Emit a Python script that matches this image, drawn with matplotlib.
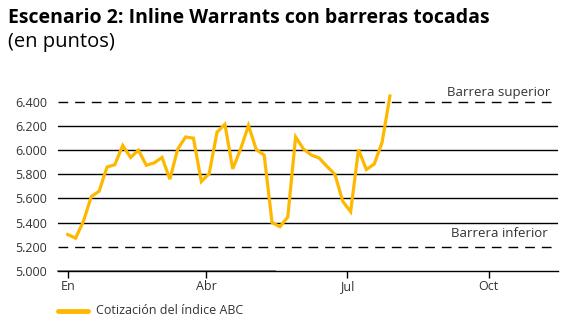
import matplotlib
matplotlib.use("Agg")
import matplotlib.pyplot as plt
import matplotlib.dates as mdates
import pandas as pd

values = [5300, 5270, 5410, 5615, 5660, 5860, 5880, 6040, 5940, 6000,
          5875, 5895, 5940, 5760, 6010, 6110, 6100, 5740, 5805, 6150,
          6215, 5845, 6010, 6205, 6005, 5960, 5400, 5365, 5445, 6110,
          6010, 5960, 5935, 5865, 5800, 5575, 5490, 6005, 5840, 5885,
          6065, 6450]
dates = pd.date_range("2023-01-01", "2023-07-29", periods=len(values))
tick_dates = pd.to_datetime(["2023-01-01", "2023-04-01", "2023-07-01", "2023-10-01"])
tick_labels = ["En", "Abr", "Jul", "Oct"]
grid_levels = [5400, 5600, 5800, 6000, 6200]
barrier_upper = 6400
barrier_lower = 5200
ytick_values = [5000, 5200, 5400, 5600, 5800, 6000, 6200, 6400]
ytick_labels = ["5.000", "5.200", "5.400", "5.600", "5.800", "6.000", "6.200", "6.400"]
title = "Escenario 2: Inline Warrants con barreras tocadas"
subtitle = "(en puntos)"
series_label = "Cotización del índice ABC"

plt.rcParams['font.family'] = ['Open Sans', 'DejaVu Sans']
TXT = "#333333"
LINE = "#FFB800"

fig = plt.figure(figsize=(5.73, 3.27), dpi=100)
ax = fig.add_axes([0.1012, 0.1722, 0.8726, 0.5526])

x0 = mdates.date2num(pd.Timestamp("2023-01-01")) - 6.3
x1 = mdates.date2num(pd.Timestamp("2023-01-01")) + 318
ax.set_xlim(x0, x1)
ax.set_ylim(5000, 6500)

for g in grid_levels:
    ax.axhline(g, color="black", lw=1.0, zorder=1)
for b in (barrier_upper, barrier_lower):
    ax.axhline(b, xmax=0.988, color="black", lw=1.0, dashes=(7, 5), zorder=1)

ax.plot(mdates.date2num(dates), values, color=LINE, lw=2.3, zorder=3,
        solid_joinstyle="miter", clip_on=False)

for s in ["top", "right", "left"]:
    ax.spines[s].set_visible(False)
ax.spines["bottom"].set_color("black")
ax.spines["bottom"].set_linewidth(1.0)
ax.axhline(5000, xmax=0.435, color="#8a8a8a", lw=1.3, zorder=2, clip_on=False)

ax.set_xticks(mdates.date2num(tick_dates))
ax.set_xticklabels(tick_labels, fontsize=9, color=TXT)
ax.tick_params(axis="x", length=5, width=1, color="black", pad=2)
ax.set_yticks(ytick_values)
ax.set_yticklabels(ytick_labels, fontsize=9, color=TXT)
ax.tick_params(axis="y", length=0, pad=8)

ax.text(0.882, 6400 + 82, "Barrera superior", ha="center", va="center",
        fontsize=9.5, color=TXT, transform=ax.get_yaxis_transform())
ax.text(0.882, 5200 + 106, "Barrera inferior", ha="center", va="center",
        fontsize=9.5, color=TXT, transform=ax.get_yaxis_transform())

fig.text(8 / 573, 1 - 18 / 327, title, fontsize=14, fontweight="bold",
         color="black", va="center", ha="left")
fig.text(8 / 573, 1 - 42 / 327, subtitle, fontsize=14.5, color="black",
         va="center", ha="left")

leg_y = 1 - 311 / 327
fig.add_artist(plt.Line2D([58 / 573, 88 / 573], [leg_y, leg_y], color=LINE,
                          lw=3.5, solid_capstyle="round"))
fig.text(96 / 573, leg_y, series_label, fontsize=9, color=TXT,
         va="center", ha="left")

fig.savefig("out.png", dpi=100)
